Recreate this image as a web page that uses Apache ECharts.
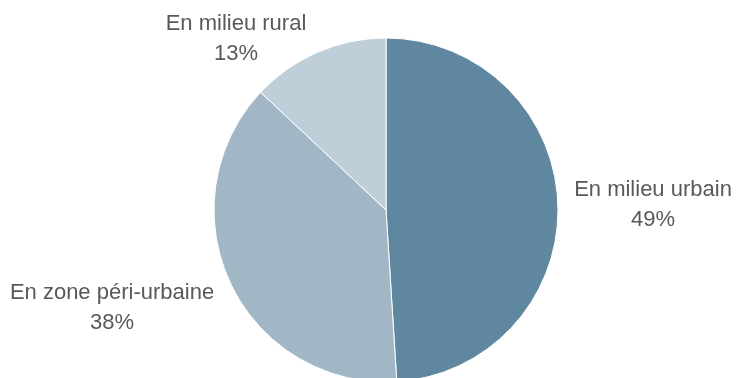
<!DOCTYPE html>
<html><head><meta charset="utf-8">
<script src="https://cdn.jsdelivr.net/npm/echarts@6/dist/echarts.min.js"></script>
<style>html,body{margin:0;padding:0;background:#fff}#c{width:736px;height:378px}</style>
</head><body><div id="c"></div>
<script>
const categories = ['En milieu urbain', 'En zone péri-urbaine', 'En milieu rural'];
const values = [49, 38, 13];
const colors = ['#5f879f', '#a2b7c6', '#bfcfda'];
const labelAnchors = [[653, 205], [112, 308], [236, 39]];

const chart = echarts.init(document.getElementById('c'), null, {renderer: 'canvas'});
chart.setOption({
  animation: false,
  series: [{
    type: 'pie',
    center: [386, 210],
    radius: 172,
    startAngle: 90,
    clockwise: true,
    data: categories.map((n, i) => ({name: n, value: values[i], itemStyle: {color: colors[i]}})),
    itemStyle: {borderColor: '#fff', borderWidth: 1},
    label: {
      show: true,
      position: 'outside',
      formatter: p => p.name + '\n' + p.value + '%',
      color: '#595959',
      fontFamily: '"Liberation Sans", Arial, sans-serif',
      fontSize: 22,
      lineHeight: 30,
      overflow: 'none',
      width: 300
    },
    labelLine: {show: false},
    labelLayout: p => ({x: labelAnchors[p.dataIndex][0], y: labelAnchors[p.dataIndex][1], align: 'center', verticalAlign: 'middle'}),
    emphasis: {disabled: true}
  }]
});
</script></body></html>
